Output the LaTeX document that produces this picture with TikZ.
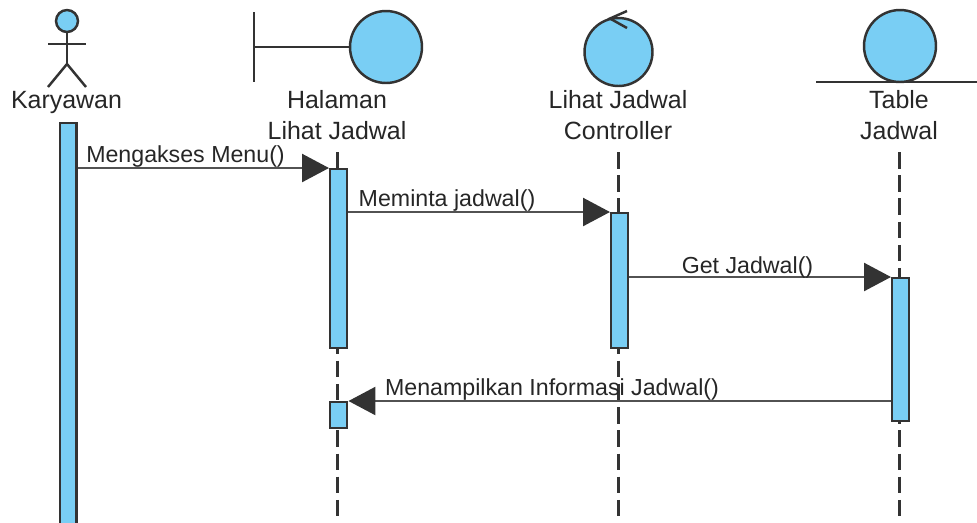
\documentclass[tikz,border=0pt]{standalone}
\usepackage{fontspec}
\setmainfont{Liberation Sans}
\usetikzlibrary{arrows.meta}
\definecolor{birumuda}{HTML}{79CEF4}
\definecolor{garis}{HTML}{333333}
\begin{document}
\begin{tikzpicture}[x=0.02cm,y=-0.02cm,line width=1.4pt]
    \tikzset{
        lifebar/.style={draw=garis,fill=birumuda,rectangle,anchor=north west,inner sep=0pt,minimum width=0.34cm},
        bulat/.style={draw=garis,fill=birumuda,circle,inner sep=0pt,minimum size=#1},
        lifeline/.style={draw=garis,dash pattern=on 9.4pt off 3.8pt},
        msg/.style={draw=garis!85!white,-{Triangle[length=0.54cm,width=0.56cm,color=garis]}},
        lbl/.style={font=\fontsize{14.2pt}{16pt}\selectfont,text=black!85,inner sep=0pt},
        msglbl/.style={font=\fontsize{13.2pt}{16pt}\selectfont,text=black!85,inner sep=0pt},
    }
    \useasboundingbox (0,0) rectangle (977,522);
    % actor
    \node[bulat=0.44cm] (kepala) at (67,21) {};
    \coordinate (pinggul) at (67,64);
    \coordinate (tanganL) at (48,44);
    \coordinate (tanganR) at (86,44);
    \coordinate (kakiL) at (48,87);
    \coordinate (kakiR) at (86,87);
    \draw[garis] (kepala) -- (pinggul);
    \draw[garis] (tanganL) -- (tanganR);
    \draw[garis] (kakiL) -- (pinggul) -- (kakiR);
    \node[lbl] (karyawan) at (66.5,102) {Karyawan};
    % boundary
    \node[bulat=1.44cm] (halamanC) at (386,47) {};
    \coordinate (batasT) at (254,12);
    \coordinate (batasB) at (254,82);
    \coordinate (batasM) at (254,47);
    \draw[garis] (batasT) -- (batasB);
    \draw[garis] (batasM) -- (halamanC);
    \node[lbl] (halaman1) at (337,100) {Halaman};
    \node[lbl] (halaman2) at (337,131) {Lihat Jadwal};
    % controller
    \node[bulat=1.36cm] (controlC) at (618.5,52) {};
    \coordinate (panahA) at (627,11);
    \coordinate (panahB) at (610,18.5);
    \coordinate (panahC) at (627,28);
    \draw[garis] (panahA) -- (panahB) -- (panahC);
    \node[lbl] (control1) at (618,100) {Lihat Jadwal};
    \node[lbl] (control2) at (618,131) {Controller};
    % entity
    \node[bulat=1.44cm] (tableC) at (900,46) {};
    \coordinate (lantaiL) at (816,82);
    \coordinate (lantaiR) at (977,82);
    \draw[garis] (lantaiL) -- (lantaiR);
    \node[lbl] (table1) at (899,100) {Table};
    \node[lbl] (table2) at (899,131) {Jadwal};
    % lifelines
    \coordinate (atasH) at (337.5,152);
    \coordinate (atasC) at (618.5,152);
    \coordinate (atasT) at (899.5,152);
    \coordinate (bawahH) at (337.5,530);
    \coordinate (bawahC) at (618.5,530);
    \coordinate (bawahT) at (899.5,530);
    \draw[lifeline] (atasH) -- (bawahH);
    \draw[lifeline] (atasC) -- (bawahC);
    \draw[lifeline] (atasT) -- (bawahT);
    % activation bars
    \node[lifebar,minimum height=8.1cm] (barK) at (58.5,122) {};
    \node[lifebar,minimum height=3.58cm] (barH) at (329,168) {};
    \node[lifebar,minimum height=0.52cm] (barH2) at (329,401) {};
    \node[lifebar,minimum height=2.7cm] (barC) at (610,212) {};
    \node[lifebar,minimum height=2.86cm] (barT) at (891,277) {};
    % messages
    \draw[msg] (barK.east |- barH.north west) -- (barH.north west);
    \draw[msg] (barH.east |- barC.north west) -- (barC.north west);
    \draw[msg] (barC.east |- barT.north west) -- (barT.north west);
    \draw[msg] (barT.west |- barH2.north east) -- (barH2.north east);
    \node[msglbl] (m1) at (185.5,156) {Mengakses Menu()};
    \node[msglbl] (m2) at (447,200) {Meminta jadwal()};
    \node[msglbl] (m3) at (747.5,267) {Get Jadwal()};
    \node[msglbl] (m4) at (552,389) {Menampilkan Informasi Jadwal()};
\end{tikzpicture}
\end{document}
